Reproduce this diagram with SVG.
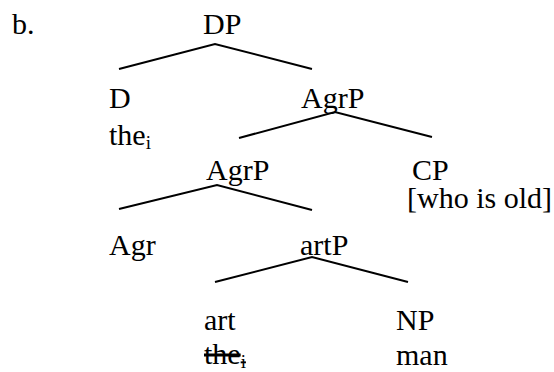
<svg xmlns="http://www.w3.org/2000/svg" width="554" height="372" viewBox="0 0 554 372">
<style>
text{font-family:"Liberation Serif","Times New Roman",Times,serif;font-size:30px;fill:#000}
.sub{font-size:19px}
.edge{stroke:#000;stroke-width:2;fill:none}
</style>
<rect width="554" height="372" fill="#fff"/>
<text x="12" y="34">b.</text>
<g id="connectors">
<polyline class="edge" points="119,69 215,44 312,69"/>
<polyline class="edge" points="239,138 335,112 432,137"/>
<polyline class="edge" points="119,209 217,185 312,210"/>
<polyline class="edge" points="215,282 312,257 408,282"/>
</g>
<g id="n-DP"><text x="203" y="34">DP</text></g>
<g id="n-D"><text x="109" y="108">D</text><text x="109" y="145">the<tspan class="sub" dy="4">i</tspan></text></g>
<g id="n-AgrP1"><text x="301" y="108">AgrP</text></g>
<g id="n-AgrP2"><text x="206" y="180">AgrP</text></g>
<g id="n-CP"><text x="412" y="180">CP</text><text x="407" y="208">[who is old]</text></g>
<g id="n-Agr"><text x="109" y="255">Agr</text></g>
<g id="n-artP"><text x="300" y="255">artP</text></g>
<g id="n-art"><text x="204" y="330">art</text><text x="204" y="364" text-decoration="line-through">the<tspan class="sub" dy="4">i</tspan></text></g>
<g id="n-NP"><text x="396" y="330">NP</text><text x="396" y="365">man</text></g>
</svg>
